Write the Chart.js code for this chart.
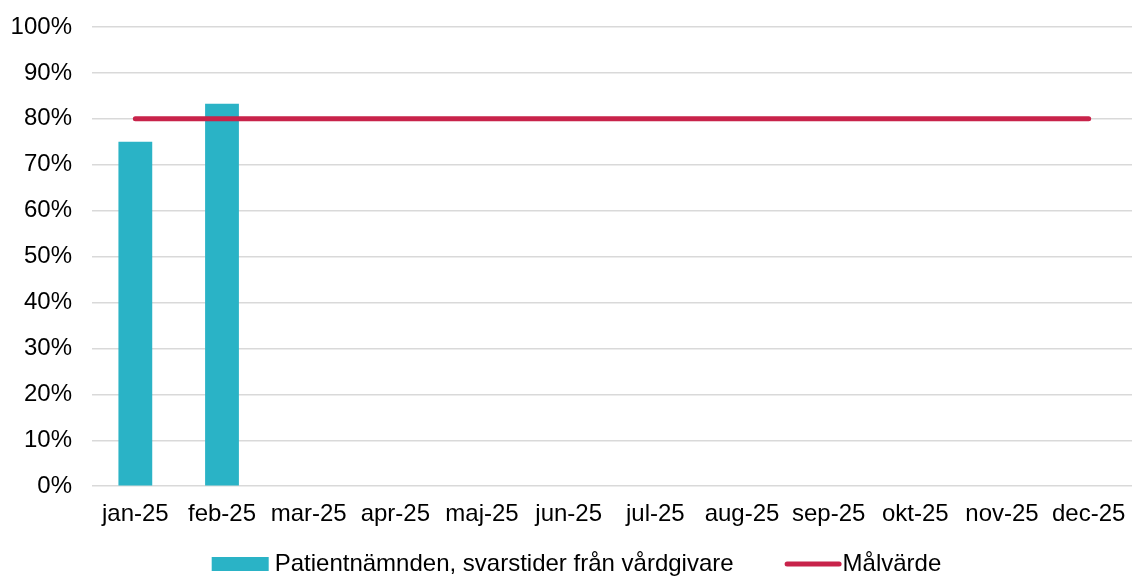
<!DOCTYPE html>
<html>
<head>
<meta charset="utf-8">
<script src="https://cdn.jsdelivr.net/npm/chart.js@4"></script>
<style>
  html, body { margin: 0; padding: 0; background: #fff; }
  #wrap { width: 1132px; height: 577px; }
</style>
</head>
<body>
<div id="wrap"><canvas id="c" width="1132" height="577"></canvas></div>
<script>
const categories = ["jan-25","feb-25","mar-25","apr-25","maj-25","jun-25","jul-25","aug-25","sep-25","okt-25","nov-25","dec-25"];
const svarstider = [0.75, 0.833, null, null, null, null, null, null, null, null, null, null];
const malvarde = [0.8, 0.8, 0.8, 0.8, 0.8, 0.8, 0.8, 0.8, 0.8, 0.8, 0.8, 0.8];
const barLabel = "Patientnämnden, svarstider från vårdgivare";
const lineLabel = "Målvärde";

const FONT_FAMILY = "'Liberation Sans', Arial, sans-serif";
Chart.defaults.font = { family: FONT_FAMILY, size: 24 };
Chart.defaults.color = "#000";

// Custom legend drawn on canvas (bar item then line item), centred at bottom
const bottomLegend = {
  id: 'bottomLegend',
  afterDraw(chart) {
    const ctx = chart.ctx;
    const ds = chart.data.datasets;
    const barDs = ds.find(d => d.type === 'bar');
    const lineDs = ds.find(d => d.type === 'line');
    ctx.save();
    ctx.font = "24px " + FONT_FAMILY;
    ctx.textBaseline = 'middle';
    ctx.fillStyle = '#000';
    const sw = 57, gap = 6, itemGap = 51;
    const t1 = ctx.measureText(barDs.label).width;
    const t2 = ctx.measureText(lineDs.label).width;
    const total = sw + gap + t1 + itemGap + sw + gap + t2;
    let x = chart.width / 2 + 13 - total / 2;
    const y = 564;
    ctx.fillStyle = barDs.backgroundColor;
    ctx.fillRect(x, y - 7, sw, 14);
    x += sw + gap;
    ctx.fillStyle = '#000';
    ctx.fillText(barDs.label, x, y);
    x += t1 + itemGap;
    ctx.strokeStyle = lineDs.borderColor;
    ctx.lineWidth = 5;
    ctx.lineCap = 'round';
    ctx.beginPath();
    ctx.moveTo(x + 2.5, y);
    ctx.lineTo(x + sw - 2.5, y);
    ctx.stroke();
    x += sw + 1;
    ctx.fillText(lineDs.label, x, y);
    ctx.restore();
  }
};

new Chart(document.getElementById('c'), {
  data: {
    labels: categories,
    datasets: [
      {
        type: 'line', label: lineLabel, data: malvarde,
        borderColor: '#C8234A', backgroundColor: '#C8234A',
        borderWidth: 5, pointRadius: 0, borderCapStyle: 'round', order: 0
      },
      {
        type: 'bar', label: barLabel, data: svarstider,
        backgroundColor: '#2AB3C6', borderWidth: 0,
        categoryPercentage: 1.0, barPercentage: 0.39, order: 1
      }
    ]
  },
  options: {
    responsive: false,
    animation: false,
    layout: { padding: { left: 11, right: -3, top: 27, bottom: 42 } },
    scales: {
      x: {
        grid: { display: false },
        border: { display: false },
        ticks: { padding: 6, maxRotation: 0, autoSkip: false },
        afterFit(s) { s.paddingLeft = 0; s.paddingRight = 0; }
      },
      y: {
        min: 0, max: 1,
        ticks: { stepSize: 0.1, padding: 20, callback: v => Math.round(v * 100) + '%' },
        grid: { color: '#d9d9d9', lineWidth: 1.5, drawTicks: false },
        border: { display: false },
        afterFit(s) { s.width = 81; s.paddingTop = 0; s.paddingBottom = 0; }
      }
    },
    plugins: {
      tooltip: { enabled: false },
      legend: { display: false }
    }
  },
  plugins: [bottomLegend]
});
</script>
</body>
</html>
